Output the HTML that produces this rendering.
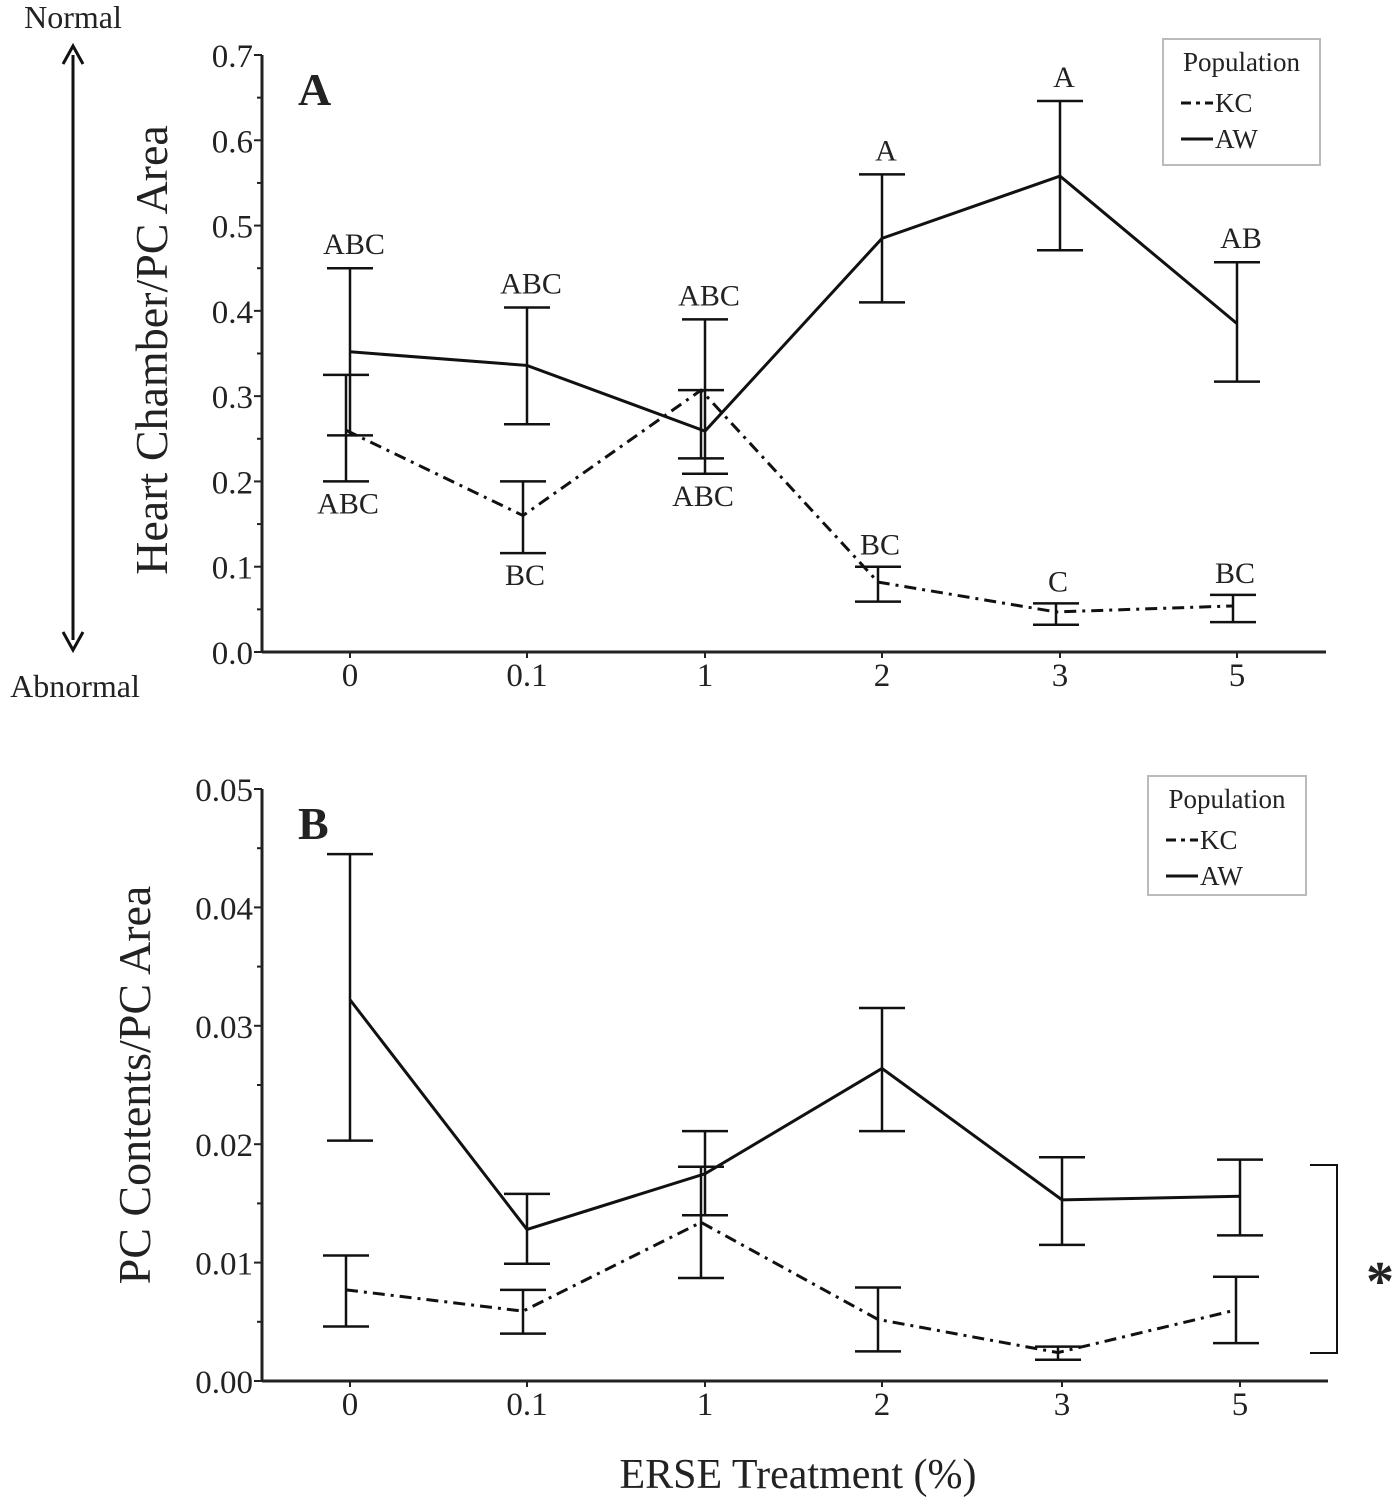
<!DOCTYPE html>
<html><head><meta charset="utf-8"><style>
body{margin:0;background:#fff}
svg text{font-family:"Liberation Serif",serif;fill:#222}
</style></head><body>
<svg width="1394" height="1500" id="fig">
<g id="root"></g>
</svg>
<script>
const categories=["0","0.1","1","2","3","5"];
const aMeanAW=[0.352,0.336,0.259,0.485,0.558,0.385];
const aHiAW=[0.450,0.404,0.390,0.560,0.646,0.457];
const aLoAW=[0.254,0.267,0.209,0.410,0.471,0.317];
const aMeanKC=[0.260,0.160,0.307,0.082,0.047,0.054];
const aHiKC=[0.325,0.200,0.307,0.100,0.057,0.067];
const aLoKC=[0.200,0.116,0.227,0.059,0.032,0.035];
const aLabAW=["ABC","ABC","ABC","A","A","AB"];
const aLabKC=["ABC","BC","ABC","BC","C","BC"];
const aLabKCAbove=[false,false,false,true,true,true];
const aTicks=["0.0","0.1","0.2","0.3","0.4","0.5","0.6","0.7"];
const bMeanAW=[0.0322,0.0128,0.0175,0.0264,0.0153,0.0156];
const bHiAW=[0.0445,0.0158,0.0211,0.0315,0.0189,0.0187];
const bLoAW=[0.0203,0.0099,0.0140,0.0211,0.0115,0.0123];
const bMeanKC=[0.0077,0.0059,0.0134,0.0052,0.0024,0.0060];
const bHiKC=[0.0106,0.0077,0.0181,0.0079,0.0029,0.0088];
const bLoKC=[0.0046,0.0040,0.0087,0.0025,0.0018,0.0032];
const bTicks=["0.00","0.01","0.02","0.03","0.04","0.05"];

const NS="http://www.w3.org/2000/svg";
const root=document.getElementById('root');
function el(t,a,txt){const e=document.createElementNS(NS,t);for(const k in a)e.setAttribute(k,a[k]);if(txt!==undefined)e.textContent=txt;root.appendChild(e);return e;}

function panel(p){
  const y=v=>p.y0-(v/p.vmax)*(p.y0-p.y1);
  const x=i=>p.xs[i];
  let e=el('line',{x1:p.ax,y1:p.y1,x2:p.ax,y2:p.y0,stroke:'#222','stroke-width':3});
  
  e=el('line',{x1:p.ax,y1:p.y0,x2:p.axEnd,y2:p.y0,stroke:'#222','stroke-width':3});
  
  const n=p.ticks.length-1;
  for(let i=0;i<=n;i++){
    const v=p.vmax*i/n, yy=y(v);
    el('line',{x1:p.ax-8,y1:yy,x2:p.ax,y2:yy,stroke:'#222','stroke-width':2});
    if(i<n){const ym=y(v+p.vmax/n/2);el('line',{x1:p.ax-5,y1:ym,x2:p.ax,y2:ym,stroke:'#222','stroke-width':2});}
    e=el('text',{x:p.ax-9,y:yy+12,'text-anchor':'end','font-size':33},p.ticks[i]);
    
  }
  categories.forEach((c,i)=>{
    el('line',{x1:x(i),y1:p.y0,x2:x(i),y2:p.y0+6,stroke:'#222','stroke-width':2});
    e=el('text',{x:x(i),y:p.y0+34,'text-anchor':'middle','font-size':33},c);
    
  });
  function series(m,hi,lo,dash,name,dx){
    const pts=m.map((v,i)=>(x(i)+dx)+','+y(v)).join(' ');
    let s=el('polyline',{points:pts,fill:'none',stroke:'#111','stroke-width':3,'stroke-dasharray':dash});
    
    m.forEach((v,i)=>{
      const xx=x(i)+dx;
      let b=el('line',{x1:xx,y1:y(hi[i]),x2:xx,y2:y(lo[i]),stroke:'#111','stroke-width':2.5});
      
      el('line',{x1:xx-23,y1:y(hi[i]),x2:xx+23,y2:y(hi[i]),stroke:'#111','stroke-width':2.5});
      el('line',{x1:xx-23,y1:y(lo[i]),x2:xx+23,y2:y(lo[i]),stroke:'#111','stroke-width':2.5});
    });
  }
  series(p.mAW,p.hAW,p.lAW,'none','aw',0);
  series(p.mKC,p.hKC,p.lKC,'12,6,3,6','kc',-4);
  if(p.labAW){
    p.labAW.forEach((t,i)=>{e=el('text',{x:x(i)+4,y:y(p.hAW[i])-14,'text-anchor':'middle','font-size':30},t);
      });
    p.labKC.forEach((t,i)=>{
      const yy=p.above[i]? y(p.hKC[i])-12 : y(Math.min(p.lKC[i],p.lAW[i]))+32;
      e=el('text',{x:x(i)-2,y:yy,'text-anchor':'middle','font-size':30},t);
      });
  }
  e=el('text',{x:p.ax+36,y:p.y1+50,'font-size':46,'font-weight':'bold'},p.letter);
  
  const L=p.leg;
  e=el('rect',{x:L[0],y:L[1],width:L[2],height:L[3],fill:'#fff',stroke:'#bbb','stroke-width':2});
  
  el('text',{x:L[0]+L[2]/2,y:L[1]+32,'text-anchor':'middle','font-size':27},'Population');
  el('line',{x1:L[0]+18,y1:L[1]+64,x2:L[0]+50,y2:L[1]+64,stroke:'#111','stroke-width':3,'stroke-dasharray':'10,5,4,5'});
  e=el('text',{x:L[0]+52,y:L[1]+73,'font-size':27},'KC');
  el('line',{x1:L[0]+18,y1:L[1]+100,x2:L[0]+50,y2:L[1]+100,stroke:'#111','stroke-width':3});
  e=el('text',{x:L[0]+52,y:L[1]+109,'font-size':27},'AW');
}
panel({id:'a',ax:262,axEnd:1326,y0:652,y1:55,vmax:0.7,xs:[350,527,705,882,1060,1237],ticks:aTicks,
  mAW:aMeanAW,hAW:aHiAW,lAW:aLoAW,mKC:aMeanKC,hKC:aHiKC,lKC:aLoKC,labAW:aLabAW,labKC:aLabKC,above:aLabKCAbove,letter:'A',leg:[1163,39,157,126]});
panel({id:'b',ax:262,axEnd:1328,y0:1381,y1:789,vmax:0.05,xs:[350,527,705,882,1062,1240],ticks:bTicks,
  mAW:bMeanAW,hAW:bHiAW,lAW:bLoAW,mKC:bMeanKC,hKC:bHiKC,lKC:bLoKC,letter:'B',leg:[1148,776,158,119]});

let e;
e=el('text',{x:0,y:0,'font-size':46,transform:'translate(167,350) rotate(-90)','text-anchor':'middle'},'Heart Chamber/PC Area');

e=el('text',{x:0,y:0,'font-size':46,transform:'translate(150,1085) rotate(-90)','text-anchor':'middle'},'PC Contents/PC Area');

e=el('text',{x:798,y:1488,'font-size':42,'text-anchor':'middle'},'ERSE Treatment (%)');

e=el('text',{x:73,y:28,'font-size':32,'text-anchor':'middle'},'Normal');

e=el('text',{x:75,y:697,'font-size':32,'text-anchor':'middle'},'Abnormal');

e=el('line',{x1:73,y1:55,x2:73,y2:640,stroke:'#111','stroke-width':3});

el('polyline',{points:'63,64 73,46 83,64',fill:'none',stroke:'#111','stroke-width':3});
el('polyline',{points:'63,632 73,650 83,632',fill:'none',stroke:'#111','stroke-width':3});
e=el('polyline',{points:'1310,1165 1337,1165 1337,1353 1310,1353',fill:'none',stroke:'#111','stroke-width':2});

e=el('text',{x:1380,y:1300,'font-size':56,'font-weight':'bold','text-anchor':'middle'},'*');

</script>
</body></html>
